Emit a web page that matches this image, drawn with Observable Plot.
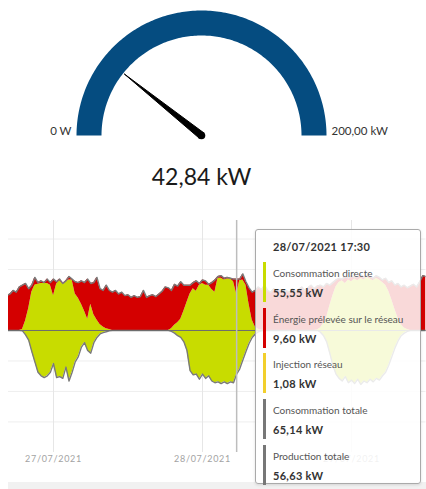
<!DOCTYPE html>
<html>
<head>
<meta charset="utf-8">
<script src="https://cdn.jsdelivr.net/npm/d3@7"></script>
<script src="https://cdn.jsdelivr.net/npm/@observablehq/plot@0.6"></script>
<style>
  html, body { margin: 0; padding: 0; background: #fff; }
  #wrap { position: relative; width: 426px; height: 489px; overflow: hidden; font-family: Lato, "Open Sans", sans-serif; }
  #gauge { position: absolute; left: 0; top: 0; }
  #chart { position: absolute; left: 0; top: 200px; }
  #band { position: absolute; left: 8px; top: 482px; width: 418px; height: 7px; background: #f1f1f1; }
  #tip { position: absolute; left: 255px; top: 229px; width: 166px; height: 255px; box-sizing: border-box;
         background: rgba(255,255,255,0.85); border: 1px solid #aaa; border-radius: 3px;
         box-shadow: 0 1px 3px rgba(0,0,0,0.12); }
  #tip div { position: absolute; white-space: nowrap; line-height: 14px; }
  .tt { font-weight: 700; font-size: 11px; color: #333; letter-spacing: 0.3px; }
  .tl { font-size: 10px; color: #555; }
  .tv { font-weight: 700; font-size: 11px; color: #333; letter-spacing: 0.3px; }
</style>
</head>
<body>
<div id="wrap">
  <div id="gauge"></div>
  <div id="chart"></div>
  <div id="band"></div>
  <div id="tip"></div>
</div>
<script>
// ---------- Gauge data ----------
const gaugeMin = 0;
const gaugeMax = 200;
const gaugeValue = 42.84;
const gaugeEndLabels = ["0 W", "200,00 kW"];

// ---------- Time-series data (half-hour steps from 27/07/2021 04:30) ----------
const seriesStart = Date.UTC(2021, 6, 27, 4, 30);
const stepMinutes = 30;
// Consommation totale (kW)
const totalConsumption = [
  40,42,46,44,50,52,54,48,52,61,
  55,57,55,59,55,59,56,59,54,57,
  62,59,56,55,57,55,59,54,55,61,
  48,46,52,46,44,46,42,44,40,41,
  38,40,38,39,46,38,40,41,39,42,
  45,50,49,46,53,51,56,52,52,52,
  55,57,54,58,57,53,55,58,62,63,
  60,61,60,59,59,59,65,56,49,44,
  46,50,47,52,46,44,48,45,47,43,
  46,44,48,45,47,50,46,49,52,48,
  51,52,50,54,52,55,58,60,59,62,
  60,63,61,62,64,61,63,62,60,63,
  61,58,60,55,57,52,54,50,52,49,
  51,53,50,56,63,62
];
// Consommation directe (kW)
const directConsumption = [
  0,0,0,0,0,1,11,25,44,52,
  53,54,54,54,52,40,53,57,53,56,
  58,58,42,37,30,22,13,30,18,12,
  7,4,2,1,0,0,0,0,0,0,
  0,0,0,0,0,0,0,0,0,0,
  0,0,0,2,6,9,13,22,32,42,
  48,45,52,54,52,52,47,44,60,60,
  58,59,59,56,42,57,58,52,30,12,
  4,1.5,0.3,0,0,0,0,0,0,0,
  0,0,0,0,0,0,0,0,0,0,
  0.5,3,8,15,28,40,50,55,57,54,
  58,56,59,57,60,58,61,59,57,60,
  58,55,52,45,35,24,14,7,3,1,
  0,0,0,0,0,0
];
// Production totale (kW), drawn below zero
const totalProduction = [
  0,0,0,0,0,0.5,5,11,24,36,
  48,52,54,52,48,38,54,53,55,42,
  58,48,36,30,19,14,23,26,14,8,
  4,2.5,1.5,0.5,0,0,0,0,0,0,
  0,0,0,0,0,0,0,0,0,0,
  0,0,0,1,3,6,8,13,23,46,
  51,50,56,50,55,52,58,60,59,61,
  59,61,59,60,50,44,34,24,15,8,
  4,1.5,0.5,0,0,0,0,0,0,0,
  0,0,0,0,0,0,0,0,0,0,
  0,2,6,13,26,40,50,55,58,53,
  60,57,61,56,62,58,60,56,59,55,
  57,52,48,40,30,20,12,6,3,1,
  0,0,0,0,0,0
];
const xDomain = [new Date(Date.UTC(2021, 6, 27, 4, 45)), new Date(Date.UTC(2021, 6, 30, 0, 0))];
const dayTicks = [Date.UTC(2021, 6, 27, 12), Date.UTC(2021, 6, 28, 12), Date.UTC(2021, 6, 29, 12)].map(d => new Date(d));
const yGrid = [-105, -70, -35, 0, 35, 70, 105];
const cursorTime = new Date(Date.UTC(2021, 6, 28, 17, 30));

// ---------- Tooltip data ----------
const tipTitle = "28/07/2021 17:30";
const tipLabels = ["Consommation directe", "Énergie prélevée sur le réseau", "Injection réseau", "Consommation totale", "Production totale"];
const tipValues = [55.55, 9.60, 1.08, 65.14, 56.63];
const tipColors = ["#c8dc00", "#d40000", "#f2cf2c", "#777777", "#777777"];

const GREEN = "#c8dc00", RED = "#d40000", OUTLINE = "#7a7a7a", GAUGE = "#054c80";
const fmtKW = v => v.toFixed(2).replace(".", ",") + " kW";

// ---------- Gauge ----------
const angle = d3.scaleLinear([gaugeMin, gaugeMax], [Math.PI, 0]);
const arcPts = d3.range(0, 181, 1).map(a => ({u: 0.9 * Math.cos(a * Math.PI / 180), v: 0.9 * Math.sin(a * Math.PI / 180)}));
const th = angle(gaugeValue), L = 0.79, W = 0.028;
const needle = [
  {u: -W * Math.sin(th), v: W * Math.cos(th)},
  {u: L * Math.cos(th), v: L * Math.sin(th)},
  {u: W * Math.sin(th), v: -W * Math.cos(th)},
  {u: -W * Math.sin(th), v: W * Math.cos(th)}
];
const gaugeSvg = Plot.plot({
  width: 426, height: 200, margin: 0,
  x: {domain: [-1.608, 1.8], range: [0, 426], axis: null},
  y: {domain: [-0.52, 1.08], range: [200, 0], axis: null},
  style: {fontFamily: "Lato, 'Open Sans', sans-serif", background: "transparent"},
  marks: [
    Plot.line(arcPts, {x: "u", y: "v", stroke: GAUGE, strokeWidth: 25, strokeLinecap: "butt", strokeLinejoin: "round"}),
    Plot.line(needle, {x: "u", y: "v", fill: "#000", stroke: "#000", strokeWidth: 1, strokeLinejoin: "round"}),
    Plot.dot([{u: 0, v: 0}], {x: "u", y: "v", r: 3.8, fill: "#000"}),
    Plot.text([{u: -1.04, v: 0.03, t: gaugeEndLabels[0]}], {x: "u", y: "v", text: "t", textAnchor: "end", fontSize: 11.5, fill: "#333"}),
    Plot.text([{u: 1.04, v: 0.03, t: gaugeEndLabels[1]}], {x: "u", y: "v", text: "t", textAnchor: "start", fontSize: 11.5, fill: "#333"}),
    Plot.text([{u: 0, v: -0.336, t: fmtKW(gaugeValue)}], {x: "u", y: "v", text: "t", fontSize: 23, fill: "#1a1a1a"})
  ]
});
document.getElementById("gauge").appendChild(gaugeSvg);

// ---------- Chart ----------
const rows = totalConsumption.map((tot, i) => ({
  t: new Date(seriesStart + i * stepMinutes * 60000),
  total: tot,
  sc: directConsumption[i],
  prodNeg: -totalProduction[i]
}));
const chartSvg = Plot.plot({
  width: 426, height: 289,
  marginLeft: 8, marginRight: 0.5, marginTop: 20, marginBottom: 37,
  x: {type: "utc", domain: xDomain, axis: null},
  y: {domain: [-140.1, 126.3], axis: null},
  style: {fontFamily: "Lato, 'Open Sans', sans-serif", background: "transparent"},
  marks: [
    Plot.ruleY(yGrid, {stroke: "#eeeeee", strokeWidth: 1}),
    Plot.ruleX(dayTicks, {stroke: "#e6e6e6", strokeWidth: 1}),
    Plot.areaY(rows, {x: "t", y1: 0, y2: "sc", fill: GREEN, clip: true}),
    Plot.areaY(rows, {x: "t", y1: "sc", y2: "total", fill: RED, clip: true}),
    Plot.areaY(rows, {x: "t", y1: 0, y2: "prodNeg", fill: GREEN, clip: true}),
    Plot.lineY(rows, {x: "t", y: "total", stroke: OUTLINE, strokeWidth: 1.4, clip: true}),
    Plot.lineY(rows, {x: "t", y: "prodNeg", stroke: OUTLINE, strokeWidth: 1.4, clip: true}),
    Plot.ruleY([0], {stroke: "#6e6e6e", strokeWidth: 1}),
    Plot.ruleX([cursorTime], {stroke: "#bdbdbd", strokeWidth: 1.5}),
    Plot.text(dayTicks, {x: d => d, frameAnchor: "bottom", dy: 9, text: d => d3.utcFormat("%d/%m/%Y")(d), fontSize: 9, fill: "#a3a3a3"})
  ]
});
d3.select(chartSvg).selectAll("text").style("letter-spacing", "0.7px");
document.getElementById("chart").appendChild(chartSvg);

// ---------- Tooltip ----------
const tip = d3.select("#tip");
tip.append("div").attr("class", "tt").style("left", "17px").style("top", "9.5px").text(tipTitle);
const stride = 45.8;
tipLabels.forEach((lab, i) => {
  const top0 = 31.7 + stride * i;
  tip.append("div").style("left", "6.5px").style("top", top0 + "px")
    .style("width", "3.4px").style("height", "40px").style("background", tipColors[i]);
  tip.append("div").attr("class", "tl").style("left", "17px").style("top", (top0 + 11 - 7) + "px").text(lab);
  tip.append("div").attr("class", "tv").style("left", "17px").style("top", (top0 + 31 - 7) + "px").text(fmtKW(tipValues[i]));
});
</script>
</body>
</html>
